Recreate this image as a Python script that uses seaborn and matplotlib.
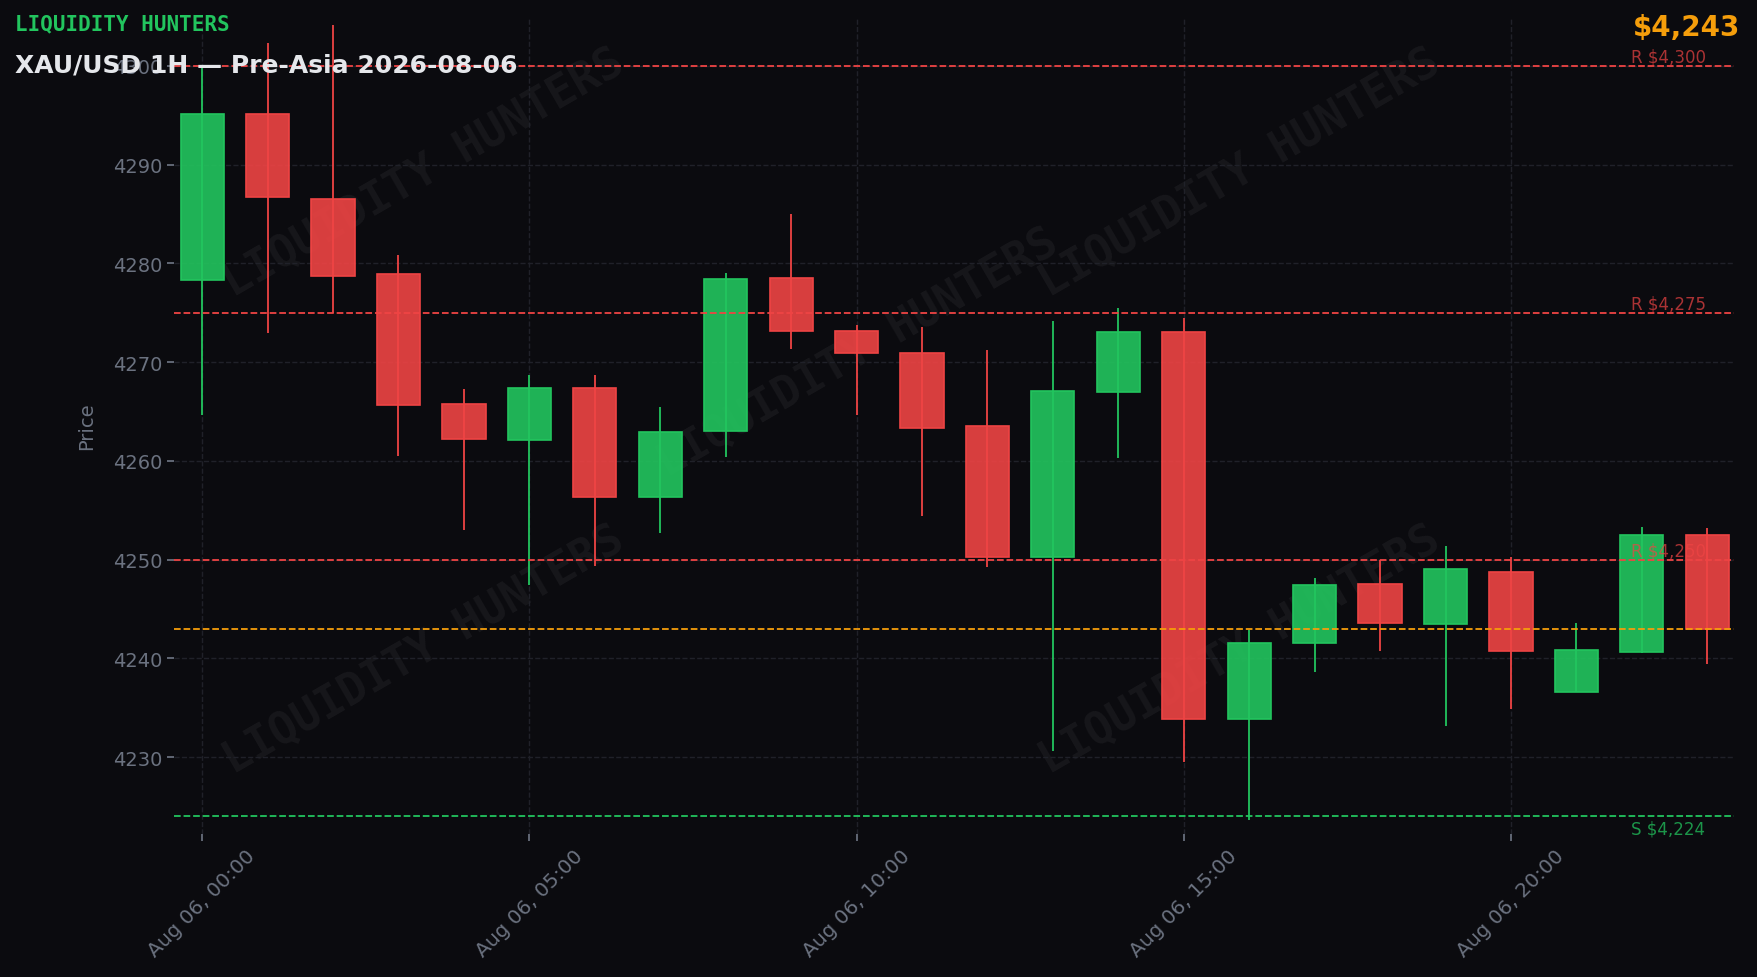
import matplotlib
matplotlib.use("Agg")
import matplotlib.pyplot as plt
import matplotlib.ticker as mticker
import seaborn as sns
import pandas as pd

# hourly XAU/USD candles, Aug 06
hours = list(range(24))
opens = [4278.3, 4295.1, 4286.5, 4278.9, 4265.8, 4262.1, 4267.4, 4256.3, 4263.0, 4278.5, 4273.2, 4270.9,
         4263.5, 4250.3, 4267.0, 4273.1, 4233.9, 4241.6, 4247.5, 4243.5, 4248.8, 4236.6, 4240.7, 4252.5]
highs = [4299.8, 4302.3, 4304.2, 4280.9, 4267.3, 4268.7, 4268.7, 4265.5, 4279.0, 4285.0, 4273.8, 4273.6,
         4271.2, 4274.2, 4275.5, 4274.5, 4242.9, 4248.1, 4250.0, 4251.4, 4250.3, 4243.6, 4253.3, 4253.2]
lows = [4264.7, 4273.0, 4275.0, 4260.5, 4253.0, 4247.4, 4249.4, 4252.7, 4260.4, 4271.3, 4264.7, 4254.4,
        4249.3, 4230.6, 4260.3, 4229.5, 4223.6, 4238.6, 4240.8, 4233.2, 4234.9, 4236.6, 4240.6, 4239.4]
closes = [4295.1, 4286.7, 4278.7, 4265.7, 4262.2, 4267.4, 4256.3, 4262.9, 4278.4, 4273.2, 4270.9, 4263.3,
          4250.3, 4267.1, 4273.1, 4233.9, 4241.6, 4247.4, 4243.6, 4249.1, 4240.8, 4240.9, 4252.5, 4243.0]

tick_hours = [0, 5, 10, 15, 20]
tick_labels = ["Aug 06, 00:00", "Aug 06, 05:00", "Aug 06, 10:00", "Aug 06, 15:00", "Aug 06, 20:00"]

resistance = [4300, 4275, 4250]
support = [4224]
last_price = 4243

BG = "#0b0b0f"
GREEN = "#22c55e"
RED = "#ef4444"
ORANGE = "#f59e0b"
MUTED = "#6b7280"

df = pd.DataFrame({"hour": hours, "open": opens, "high": highs, "low": lows, "close": closes})
df["up"] = df["close"] >= df["open"]
df["color"] = df["up"].map({True: GREEN, False: RED})

sns.set_theme(style="dark", rc={
    "figure.facecolor": BG,
    "axes.facecolor": BG,
    "axes.edgecolor": BG,
    "axes.grid": True,
    "grid.color": "#202129",
    "grid.linestyle": "--",
    "grid.linewidth": 1.0,
    "xtick.color": MUTED,
    "ytick.color": MUTED,
    "xtick.bottom": True,
    "ytick.left": True,
    "text.color": MUTED,
    "axes.labelcolor": MUTED,
})
plt.rcParams["font.family"] = ["DejaVu Sans"]

fig = plt.figure(figsize=(17.58, 9.78), dpi=100)
ax = fig.add_axes([0.099, 0.146, 0.8874, 0.836])

# watermarks
for wx, wy in [(0.16, 0.81), (0.438, 0.59), (0.683, 0.81), (0.16, 0.226), (0.683, 0.226)]:
    ax.text(wx, wy, "LIQUIDITY HUNTERS", transform=ax.transAxes, rotation=30,
            ha="center", va="center", fontsize=32, fontweight="bold", family="DejaVu Sans Mono",
            color="white", alpha=0.05, zorder=0, clip_on=True)

# wicks
ax.vlines(df["hour"], df["low"], df["high"], colors=df["color"], linewidth=1.3, zorder=2)
# bodies
body_bottom = df[["open", "close"]].min(axis=1)
body_height = (df["close"] - df["open"]).abs()
ax.bar(df["hour"], body_height, bottom=body_bottom, width=0.66,
       color=[(c, 0.9) for c in df["color"]], edgecolor=df["color"], linewidth=1.2, zorder=3)

# levels
for lvl in resistance:
    ax.axhline(lvl, color=RED, linestyle="--", linewidth=1.3, zorder=4)
    ax.text(0.934, lvl, f"R ${lvl:,}", transform=ax.get_yaxis_transform(),
            ha="left", va="bottom", fontsize=12, color=RED, alpha=0.7, zorder=5)
for lvl in support:
    ax.axhline(lvl, color=GREEN, linestyle="--", linewidth=1.3, zorder=4)
    ax.text(0.934, lvl - 0.3, f"S ${lvl:,}", transform=ax.get_yaxis_transform(),
            ha="left", va="top", fontsize=12, color=GREEN, alpha=0.75, zorder=5)
ax.axhline(last_price, color=ORANGE, linestyle="--", linewidth=1.3, zorder=4)

ax.set_xlim(-0.43, 23.41)
ax.set_ylim(4222.2, 4305.0)
ax.yaxis.set_major_locator(mticker.MultipleLocator(10))
ax.set_xticks(tick_hours)
ax.set_xticklabels(tick_labels, rotation=45)
ax.tick_params(axis="y", labelsize=14, length=5, color=MUTED)
ax.tick_params(axis="x", labelsize=14.5, length=5, color=MUTED)
ax.set_ylabel("Price", fontsize=14, labelpad=12)
ax.set_xlabel("")
ax.grid(True, which="major")
for s in ax.spines.values():
    s.set_visible(False)

fig.text(0.0083, 0.975, "LIQUIDITY HUNTERS", ha="left", va="center", fontsize=15,
         fontweight="bold", family="DejaVu Sans Mono", color=GREEN)
fig.text(0.0085, 0.9335, "XAU/USD 1H \u2014 Pre-Asia 2026-08-06", ha="left", va="center",
         fontsize=18, fontweight="bold", color="#e5e7eb")
fig.text(0.990, 0.971, f"${last_price:,}", ha="right", va="center", fontsize=20,
         fontweight="bold", color=ORANGE)

fig.savefig("out.png", dpi=100, facecolor=BG)
